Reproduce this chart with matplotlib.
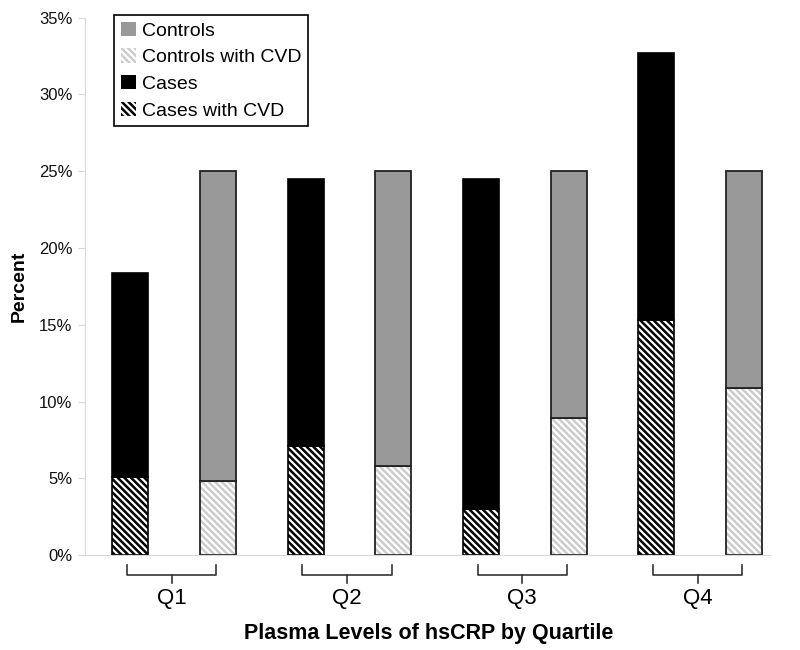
import matplotlib.pyplot as plt
from matplotlib.patches import Patch
from matplotlib.ticker import FuncFormatter

plt.rcParams['font.family'] = ['Liberation Sans', 'DejaVu Sans']
plt.rcParams['hatch.linewidth'] = 1.8

quartiles = ['Q1', 'Q2', 'Q3', 'Q4']
cases_total = [18.4, 24.5, 24.5, 32.7]
cases_cvd = [5.1, 7.1, 3.0, 15.3]
controls_total = [25.0, 25.0, 25.0, 25.0]
controls_cvd = [4.8, 5.8, 8.9, 10.9]

HATCH = '\\' * 5

fig = plt.figure(figsize=(8, 6.5), dpi=100)
ax = fig.add_axes([0.106, 0.146, 0.857, 0.827])

x_cases = [2 * i for i in range(len(quartiles))]
x_ctrl = [2 * i + 1 for i in range(len(quartiles))]
w = 0.41

cases_rest = [t - c for t, c in zip(cases_total, cases_cvd)]
ctrl_rest = [t - c for t, c in zip(controls_total, controls_cvd)]

# cases: hatched CVD part + solid black rest
ax.bar(x_cases, cases_cvd, w, color='white', edgecolor='black', hatch=HATCH, lw=0)
ax.bar(x_cases, cases_cvd, w, fill=False, edgecolor='black', lw=1.2)
ax.bar(x_cases, cases_rest, w, bottom=cases_cvd, color='black', edgecolor='black', lw=1.2)

# controls: light hatched CVD part + gray rest
ax.bar(x_ctrl, controls_cvd, w, color='white', edgecolor='#cccccc', hatch=HATCH, lw=0)
ax.bar(x_ctrl, controls_cvd, w, fill=False, edgecolor='#222222', lw=1.3)
ax.bar(x_ctrl, ctrl_rest, w, bottom=controls_cvd, color='#999999', edgecolor='#222222', lw=1.3)

ax.set_ylim(0, 35)
ax.set_xlim(-0.52, 7.3)
ax.set_yticks(range(0, 36, 5))
ax.yaxis.set_major_formatter(FuncFormatter(lambda v, p: f'{v:.0f}%'))
ax.tick_params(axis='y', labelsize=12, length=5, color='#d9d9d9', pad=4, labelcolor='#111111')
ax.set_xticks([])

for s in ['top', 'right']:
    ax.spines[s].set_visible(False)
ax.spines['left'].set_color('#d9d9d9')
ax.spines['bottom'].set_color('#d9d9d9')

ax.set_ylabel('Percent', fontsize=14, fontweight='bold', labelpad=8)

# group brackets below the axis
trans = ax.get_xaxis_transform()
for i, q in enumerate(quartiles):
    x0 = x_cases[i] - 0.04
    x1 = x_ctrl[i] - 0.02
    xm = (x0 + x1) / 2
    ax.plot([x0, x0, x1, x1], [-0.018, -0.037, -0.037, -0.018], color='#333333',
            lw=1.2, transform=trans, clip_on=False)
    ax.plot([xm, xm], [-0.037, -0.052], color='#333333', lw=1.2,
            transform=trans, clip_on=False)
    ax.text(xm, -0.08, q, transform=trans, ha='center', va='center', fontsize=16)

ax.text(3.4, -0.145, 'Plasma Levels of hsCRP by Quartile', transform=trans,
        ha='center', va='center', fontsize=15.5, fontweight='bold')

handles = [
    Patch(facecolor='#999999', edgecolor='none'),
    Patch(facecolor='white', edgecolor='#cccccc', hatch=HATCH, lw=0),
    Patch(facecolor='black', edgecolor='none'),
    Patch(facecolor='white', edgecolor='black', hatch=HATCH, lw=0),
]
labels = ['Controls', 'Controls with CVD', 'Cases', 'Cases with CVD']
leg = ax.legend(handles, labels, loc='upper left', bbox_to_anchor=(0.043, 1.005),
                fontsize=14, handlelength=0.75, handleheight=0.75, handletextpad=0.3,
                labelspacing=0.45, borderpad=0.35, borderaxespad=0, fancybox=False,
                framealpha=1)
leg.get_frame().set_edgecolor('black')
leg.get_frame().set_linewidth(1.2)

fig.savefig('out.png', dpi=100)
